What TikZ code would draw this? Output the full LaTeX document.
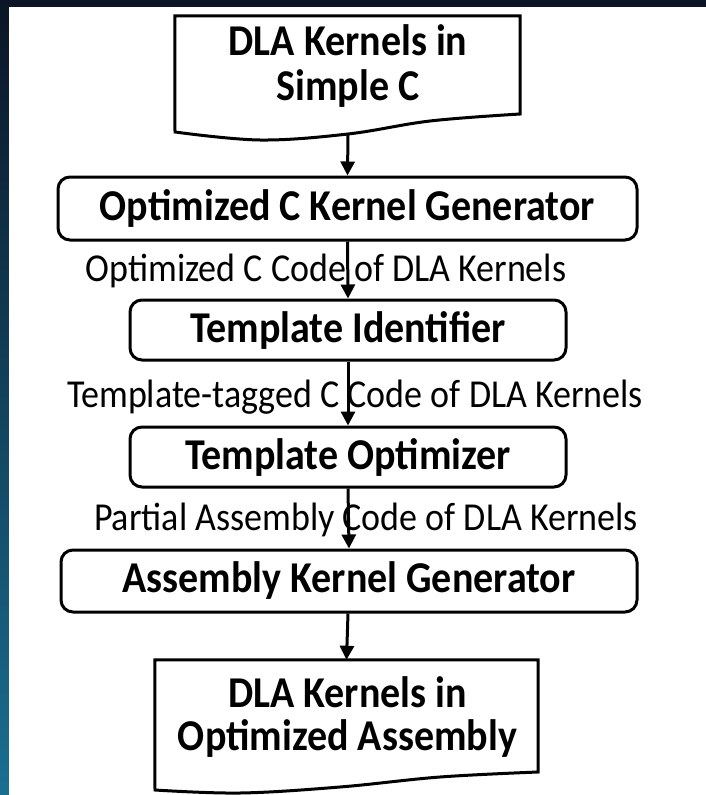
\documentclass[tikz,border=0pt]{standalone}
\usepackage{fontspec}
\setmainfont{Carlito}
\usetikzlibrary{arrows.meta}
\definecolor{navy}{HTML}{0B1526}
\definecolor{teal1}{HTML}{1A6F91}
\newcommand{\vstretch}[1]{\scalebox{1}[1.1]{#1}}
\begin{document}
\begin{tikzpicture}[x=1pt,y=-1pt,
  box/.style={draw=black,line width=3pt,rounded corners=12pt,inner sep=0pt,
    font=\fontsize{40}{49}\selectfont\bfseries},
  doctext/.style={inner sep=0pt,anchor=base,font=\fontsize{40}{49}\selectfont\bfseries},
  lbl/.style={inner sep=0pt,font=\fontsize{36}{40}\selectfont},
  flow/.style={line width=3pt,-{Triangle[width=14pt,length=14pt]}},
  docline/.style={draw=black,line width=3pt,line join=miter}]
\useasboundingbox (0,0) rectangle (706,795);
% background
\fill[navy] (0,0) rectangle (706,795);
\shade[top color=navy,bottom color=teal1] (0,0) rectangle (9,795);
\fill[white] (9,7) rectangle (706,795);
% document 1
\node[inner sep=0pt,minimum width=345pt,minimum height=116pt] (d1) at (347.5,74) {};
\path[docline,fill=white] (d1.north west) -- (d1.north east)
  -- plot[smooth,tension=0.6] coordinates {(520,114) (430,121) (348,134) (260,140) (175,132)} -- cycle;
\node[doctext] (d1a) at (348,55) {\vstretch{DLA Kernels in}};
\node[doctext] (d1c) at (348,100) {\vstretch{Simple C}};
\coordinate (d1b) at (348,134);
% boxes
\node[box,minimum width=579pt,minimum height=63pt] (b1) at (347.5,208.5) {\vstretch{Optimized C Kernel Generator}};
\node[box,minimum width=436pt,minimum height=60pt] (b2) at (348,330) {\vstretch{Template Identifier}};
\node[box,minimum width=436pt,minimum height=60pt] (b3) at (348,457) {\vstretch{Template Optimizer}};
\node[box,minimum width=576pt,minimum height=62pt] (b4) at (349,581) {\vstretch{Assembly Kernel Generator}};
% document 2
\node[inner sep=0pt,minimum width=383pt,minimum height=112pt] (d2) at (346.5,716) {};
\path[docline,fill=white] (d2.north west) -- (d2.north east)
  -- plot[smooth,tension=0.6] coordinates {(538,772) (440,777) (340,787) (240,793) (155,790)} -- cycle;
\node[doctext] (d2a) at (347.5,707) {\vstretch{DLA Kernels in}};
\node[doctext] (d2c) at (347.5,750) {\vstretch{Optimized Assembly}};
% labels
\node[lbl] (l1) at (326,271) {\vstretch{Optimized C Code of DLA Kernels}};
\node[lbl] (l2) at (355,397) {\vstretch{Template-tagged C Code of DLA Kernels}};
\node[lbl] (l3) at (366,520) {\vstretch{Partial Assembly Code of DLA Kernels}};
% arrows
\draw[flow] (d1b) -- (b1.north);
\draw[flow] (b1.south) -- (b2.north);
\draw[flow] (b2.south) -- (b3.north);
\draw[flow] (b3.south) -- (b4.south |- b4.north);
\draw[flow] (b4.south -| b3.south) -- (d2.north);
\end{tikzpicture}
\end{document}
